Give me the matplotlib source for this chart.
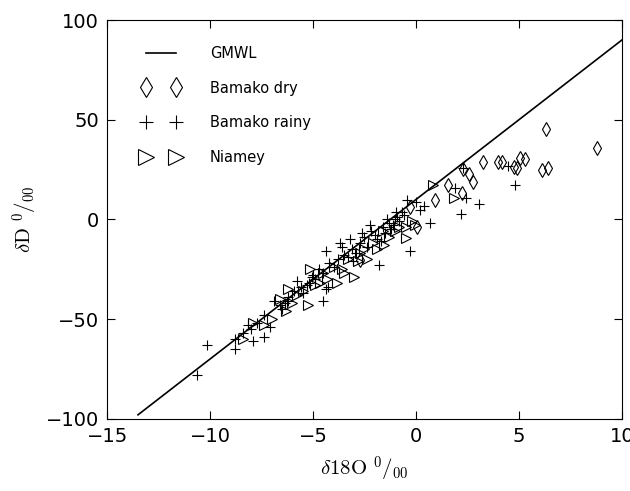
import numpy as np
import matplotlib
matplotlib.use('Agg')
import matplotlib.pyplot as plt

plt.rcParams['mathtext.fontset'] = 'cm'

# Bamako dry season samples (d18O, dD)
dry_o18 = [6.3, 8.8, 3.27, 4.0, 4.2, 4.75, 4.9, 5.05, 5.3, 6.1, 6.42, 2.3, 2.6,
           2.78, 2.22, 1.57, 0.92, 0.07, -0.29, -2.7]
dry_dD = [45.4, 36.0, 28.7, 28.7, 29.0, 26.5, 26.0, 31.0, 30.2, 24.8, 25.7, 25.5,
          23.0, 19.0, 13.5, 17.3, 9.8, -4.0, 6.4, -20.3]

# Bamako rainy season samples
rainy_o18 = [-10.65, -10.15, -8.8, -8.8, -7.9, -7.4, -8.15, -7.1, -7.4, -7.7, -8.0,
             -6.9, -6.6, -6.2, -6.2, -6.35, -5.9, -5.6, -5.5, -5.3, -5.05, -4.9,
             -4.5, -4.35, -4.5, -4.2, -4.35, -4.0, -3.8, -3.6, -3.5, -3.2, -3.1,
             -2.9, -2.7, -2.5, -2.4, -2.2, -2.0, -1.9, -1.8, -1.6, -1.5, -1.3,
             -1.2, -1.0, -0.95, -0.8, -0.6, -0.45, -0.3, 0.0, 0.2, 0.7, 1.9, 2.2,
             2.45, 3.05, 2.3, 4.45, 4.8, -5.8, -5.2, -4.7, -3.3, -2.6, -1.7, -1.1,
             -0.7, -4.26, -3.69, -3.04, -2.23, -6.5, -5.0, -1.4, -0.9, 0.4, -8.4]
rainy_dD = [-78, -63, -65, -60, -61, -59, -53, -54, -48, -52, -55,
            -41, -43, -39, -41, -42, -36, -34, -37, -33, -29, -30,
            -41, -35, -27, -22, -16, -24, -20, -14, -18, -10, -15,
            -17, -12, -9, -14, -6, -8, -10, -23, -4, -7, -2,
            -5, 0, 4, -1, 2, 10, -16, 9, 5, -2, 15.6, 2.6,
            10.6, 8, 25.7, 27, 17.5, -31, -32, -25, -19, -7, -11, -3,
            4, -33.7, -12, -21, -2.8, -45, -28, 0, 1, 7, -57]

# Niamey samples
niamey_o18 = [-8.4, -7.9, -7.4, -7.0, -6.6, -6.3, -6.0, -5.8, -5.25, -5.15, -4.9,
              -4.65, -4.3, -4.0, -3.85, -3.6, -3.3, -3.0, -2.8, -2.5, -2.4, -2.1,
              -1.9, -1.55, -1.3, -1.0, -0.8, -0.5, -0.5, -0.05, -0.2, 0.85, 1.85,
              -1.6, -2.7, -3.5, -4.5, -5.5, -6.2]
niamey_dD = [-60, -52, -53, -50, -40, -46, -42, -38, -43, -25, -33,
             -32, -30, -24, -32, -25, -20, -29, -21, -15, -20, -12,
             -15, -13, -9, -6, -4, -9.5, -4, -3, -1, 17.3, 10.6,
             -6, -17, -27, -27, -36, -35]

# Global meteoric water line: dD = 8 d18O + 10
gmwl_o18 = np.array([-13.5, 10.0])
gmwl_dD = 8 * gmwl_o18 + 10

fig = plt.figure(figsize=(6.3, 4.91), dpi=100)
ax = fig.add_axes([0.170, 0.147, 0.817, 0.812])

ax.plot(gmwl_o18, gmwl_dD, 'k-', lw=1.2, label='GMWL')
ax.plot(dry_o18, dry_dD, 'd', ms=7, mfc='none', mec='k', mew=0.8,
        label='Bamako dry')
ax.plot(rainy_o18, rainy_dD, '+', ms=6.5, mec='k', mew=0.8,
        label='Bamako rainy')
ax.plot(niamey_o18, niamey_dD, '>', ms=7.5, mfc='none', mec='k', mew=0.8,
        label='Niamey')

ax.set_xlim(-15, 10)
ax.set_ylim(-100, 100)
ax.set_xticks([-15, -10, -5, 0, 5, 10])
ax.set_yticks([-100, -50, 0, 50, 100])
ax.tick_params(direction='in', top=True, right=True, length=6, labelsize=14,
               pad=6)

ax.set_xlabel(r'$\delta 18\mathrm{O}\ ^0/_{00}$', fontsize=15, labelpad=6)
ax.set_ylabel(r'$\delta \mathrm{D}\ ^0/_{00}$', fontsize=15, labelpad=4)

ax.legend(loc='upper left', bbox_to_anchor=(0.055, 0.95), borderaxespad=0,
          frameon=False, numpoints=2, markerscale=1.45, fontsize=10.5,
          labelspacing=1.35, handlelength=2.7, handletextpad=2.0)

fig.savefig('out.png', dpi=100, facecolor='white')
